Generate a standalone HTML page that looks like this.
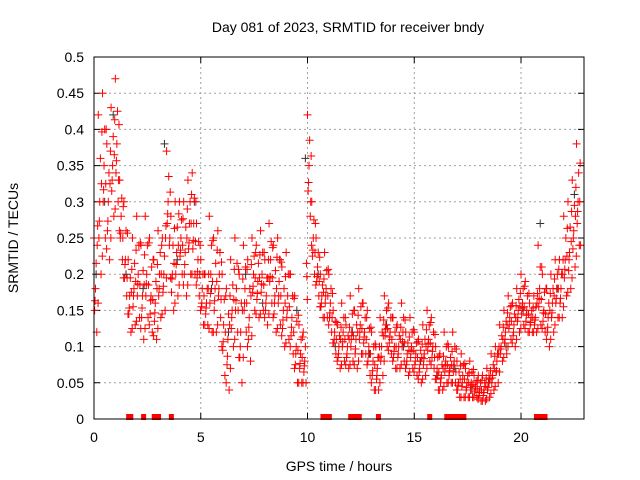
<!DOCTYPE html>
<html><head><meta charset="utf-8"><style>
body{margin:0;background:#fff}
svg{display:block;font-family:"Liberation Sans",sans-serif}
</style></head><body>
<svg id="chart" width="640" height="480" viewBox="0 0 640 480" xmlns="http://www.w3.org/2000/svg">
<text x="348" y="32" font-size="14" text-anchor="middle">Day 081 of 2023, SRMTID for receiver bndy</text>
<text x="339" y="471" font-size="14" text-anchor="middle">GPS time / hours</text>
<text x="18" y="238" font-size="14" text-anchor="middle" transform="rotate(-90 18 238)">SRMTID / TECUs</text>
<g id="grid"></g>
<g id="axes"></g>
<g id="marks"></g>
<rect x="94" y="57" width="490" height="362" fill="none" stroke="#000" stroke-width="1"/>
</svg>
<script>
const times=[0,0.2,0.4,0.6,0.8,1,1.2,1.4,1.6,1.8,2,2.2,2.4,2.6,2.8,3,3.2,3.4,3.6,3.8,4,4.2,4.4,4.6,4.8,5,5.2,5.4,5.6,5.8,6,6.2,6.4,6.6,6.8,7,7.2,7.4,7.6,7.8,8,8.2,8.4,8.6,8.8,9,9.2,9.4,9.6,9.8,10,10.2,10.4,10.6,10.8,11,11.2,11.4,11.6,11.8,12,12.2,12.4,12.6,12.8,13,13.2,13.4,13.6,13.8,14,14.2,14.4,14.6,14.8,15,15.2,15.4,15.6,15.8,16,16.2,16.4,16.6,16.8,17,17.2,17.4,17.6,17.8,18,18.2,18.4,18.6,18.8,19,19.2,19.4,19.6,19.8,20,20.2,20.4,20.6,20.8,21,21.2,21.4,21.6,21.8,22,22.2,22.4,22.6];
const redHigh=[.25,.42,.45,.38,.43,.47,.33,.3,.22,.25,.28,.24,.28,.25,.22,.26,.25,.37,.28,.3,.3,.3,.33,.34,.27,.22,.2,.28,.25,.26,.2,.18,.22,.25,.2,.24,.22,.25,.24,.26,.22,.27,.24,.25,.21,.23,.2,.17,.13,.12,.42,.3,.25,.2,.23,.2,.15,.13,.16,.13,.17,.15,.18,.16,.15,.12,.1,.14,.17,.16,.14,.13,.16,.12,.14,.12,.11,.13,.15,.14,.1,.09,.12,.1,.12,.08,.09,.07,.08,.06,.06,.06,.07,.09,.1,.13,.15,.17,.16,.18,.2,.19,.16,.17,.24,.2,.18,.2,.22,.22,.28,.3,.33,.38];
const redMid=[.18,.3,.35,.3,.35,.38,.28,.22,.17,.18,.2,.17,.2,.17,.16,.2,.2,.3,.2,.23,.25,.23,.27,.27,.22,.18,.16,.2,.18,.2,.13,.11,.15,.18,.12,.18,.14,.2,.19,.2,.17,.22,.17,.19,.15,.17,.14,.1,.09,.08,.35,.25,.21,.17,.18,.16,.12,.1,.12,.1,.12,.11,.13,.12,.1,.08,.07,.1,.13,.12,.1,.1,.12,.09,.1,.09,.08,.09,.11,.1,.07,.06,.08,.07,.08,.05,.06,.05,.05,.045,.04,.04,.05,.06,.08,.1,.12,.14,.13,.15,.16,.15,.14,.14,.18,.15,.14,.16,.18,.18,.22,.23,.26,.3];
const redLow=[.12,.2,.25,.22,.28,.3,.22,.17,.12,.13,.14,.11,.14,.12,.11,.14,.15,.24,.15,.17,.2,.17,.2,.2,.17,.13,.13,.12,.12,.14,.06,.04,.1,.12,.05,.12,.08,.15,.14,.15,.13,.16,.12,.13,.1,.11,.09,.05,.05,.05,.28,.2,.17,.14,.14,.12,.09,.07,.08,.07,.08,.07,.09,.09,.06,.04,.04,.06,.1,.09,.07,.07,.08,.06,.07,.06,.05,.06,.08,.07,.04,.04,.05,.05,.05,.03,.03,.03,.03,.03,.025,.025,.03,.04,.05,.08,.09,.11,.1,.12,.13,.12,.12,.12,.13,.12,.1,.12,.14,.14,.17,.18,.21,.24];
const blackTimes=[0.1,0.5,0.9,1.5,2.3,3.3,3.9,4.7,5.5,6.3,7.1,7.9,8.7,9.5,9.9,10.5,11.3,12.1,12.9,13.7,14.5,15.3,16.1,16.9,17.7,18.5,19.3,20.1,20.9,21.7,22.5];
const blackVals=[.2,.3,.42,.2,.18,.38,.22,.3,.18,.12,.2,.16,.22,.15,.36,.2,.1,.12,.09,.13,.1,.08,.06,.07,.04,.05,.1,.15,.27,.18,.31];
const zeroTimes=[1.6,1.7,2.3,2.8,3.0,3.6,10.7,10.9,11.0,12.0,12.1,12.3,12.4,13.3,15.7,16.5,16.7,16.9,17.1,17.3,20.7,20.8,21.0,21.1];
const xTicks=[0,5,10,15,20];
const yTicks=[0,0.05,0.1,0.15,0.2,0.25,0.3,0.35,0.4,0.45,0.5];

const X0=94,X1=584,Y0=419,Y1=57,XMAX=22.95,YMAX=0.5;
const xs=v=>X0+(v/XMAX)*(X1-X0);
const ys=v=>Y0-(v/YMAX)*(Y0-Y1);
const NS="http://www.w3.org/2000/svg";
const grid=document.getElementById('grid'),axes=document.getElementById('axes'),marks=document.getElementById('marks');
function mk(tag,attrs,parent){const e=document.createElementNS(NS,tag);for(const k in attrs)e.setAttribute(k,attrs[k]);parent.appendChild(e);return e;}
xTicks.forEach(t=>{
  const x=xs(t);
  if(t>0){const g=mk('line',{x1:x,x2:x,y1:Y1,y2:Y0,stroke:'#a0a0a0','stroke-dasharray':'2,3'},grid);
  
  }
  const tk=mk('path',{d:`M${x},${Y0}v-6M${x},${Y1}v6`,stroke:'#000'},axes);
  
  
  const l=mk('text',{x:x,y:Y0+23,'font-size':14,'text-anchor':'middle'},axes);l.textContent=t;
  
  
});
yTicks.forEach(t=>{
  const y=ys(t);
  if(t>0&&t<0.5){const g=mk('line',{x1:X0,x2:X1,y1:y,y2:y,stroke:'#a0a0a0','stroke-dasharray':'2,3'},grid);
  
  }
  const tk=mk('path',{d:`M${X0},${y}h6M${X1},${y}h-6`,stroke:'#000'},axes);
  
  
  const l=mk('text',{x:X0-10,y:y+5,'font-size':14,'text-anchor':'end'},axes);l.textContent=String(t);
  
  
});
function plus(t,v,col,name){
  const x=xs(t),y=ys(v);
  const p=mk('path',{d:`M${x-4},${y}h8M${x},${y-4}v8`,stroke:col,'stroke-width':1},marks);
  
  
}
blackTimes.forEach((t,i)=>plus(t,blackVals[i],'#333','black-point'));
times.forEach((t,i)=>{
  const n=Math.min(i+1,times.length-1);
  plus(t,redHigh[i],'#f00','red-point-high');
  plus(t+0.07,redMid[i],'#f00','red-point-mid');
  plus(t+0.13,redLow[i],'#f00','red-point-low');
  plus(t+0.1,(redHigh[i]+redMid[i])/2,'#f00','red-point');
  plus(t+0.03,(redLow[i]+redMid[i])/2,'#f00','red-point');
  plus(t+0.17,(redHigh[i]*2+redMid[n])/3,'#f00','red-point');
  plus(t+0.15,(redMid[i]+redMid[n])/2,'#f00','red-point');
  plus(t+0.05,(redLow[i]*2+redHigh[i])/3,'#f00','red-point');
  plus(t+0.19,(redLow[i]+redLow[n])/2,'#f00','red-point');
});
zeroTimes.forEach(t=>{
  const r=mk('rect',{x:xs(t)-2,y:Y0-5,width:5,height:6,fill:'#f00'},marks);
  
  
});
</script>
</body></html>
